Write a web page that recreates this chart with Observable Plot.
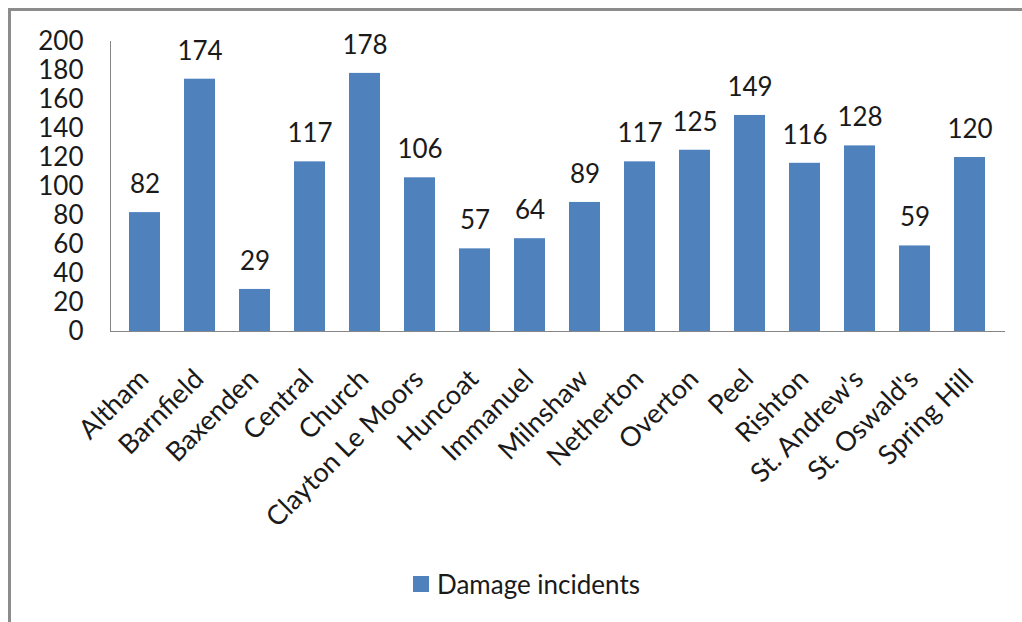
<!DOCTYPE html>
<html><head><meta charset="utf-8">
<script src="https://cdn.jsdelivr.net/npm/d3@7"></script>
<script src="https://cdn.jsdelivr.net/npm/@observablehq/plot@0.6"></script>
<style>
body{margin:0;background:#fff;width:1022px;height:622px;overflow:hidden;position:relative;font-family:Lato,sans-serif;}
#frame{position:absolute;left:8px;top:8px;width:1030px;height:630px;border-top:3px solid #8c8c8c;border-left:3px solid #8c8c8c;}
#chart{position:absolute;left:0;top:0;}
#legend{position:absolute;left:413px;top:568px;display:flex;align-items:center;font-size:26px;color:#1a1a1a;font-family:Lato,sans-serif;}
.sw{width:16px;height:16px;background:#4f81bd;margin-right:8px;display:inline-block;}
</style></head><body>
<div id="frame"></div><div id="chart"></div>
<div id="legend"><span class="sw"></span><span>Damage incidents</span></div>
<script>
const categories = ["Altham","Barnfield","Baxenden","Central","Church","Clayton Le Moors","Huncoat","Immanuel","Milnshaw","Netherton","Overton","Peel","Rishton","St. Andrew's","St. Oswald's","Spring Hill"];
const values = [82,174,29,117,178,106,57,64,89,117,125,149,116,128,59,120];
const yTicks = [0,20,40,60,80,100,120,140,160,180,200];
const seriesName = "Damage incidents";
const data = categories.map((c,i)=>({name:c, value:values[i]}));
const chart = Plot.plot({
  width:1022, height:540, marginLeft:110, marginRight:17, marginTop:41, marginBottom:209,
  style:{fontFamily:"Lato, sans-serif", fontSize:"26px", color:"#1a1a1a", background:"transparent", overflow:"visible"},
  x:{domain:categories, paddingInner:0.435, paddingOuter:0.237, label:null},
  y:{domain:[0,200], label:null},
  marks:[
    Plot.barY(data,{x:"name",y:"value",fill:"#4f81bd"}),
    Plot.text(data,{x:"name",y:"value",text:d=>String(d.value),dy:-28,fontSize:26,fill:"#1a1a1a"}),
    Plot.axisY({ticks:yTicks, tickSize:0, tickPadding:27, fontSize:26, label:null}),
    Plot.axisX({tickSize:0, tickRotate:-45, tickPadding:43, dx:-1, fontSize:27, label:null}),
    Plot.ruleY([0],{stroke:"#868686"}),
    Plot.frame({anchor:"left", stroke:"#868686"})
  ]
});
document.getElementById("chart").appendChild(chart);
</script>
</body></html>
